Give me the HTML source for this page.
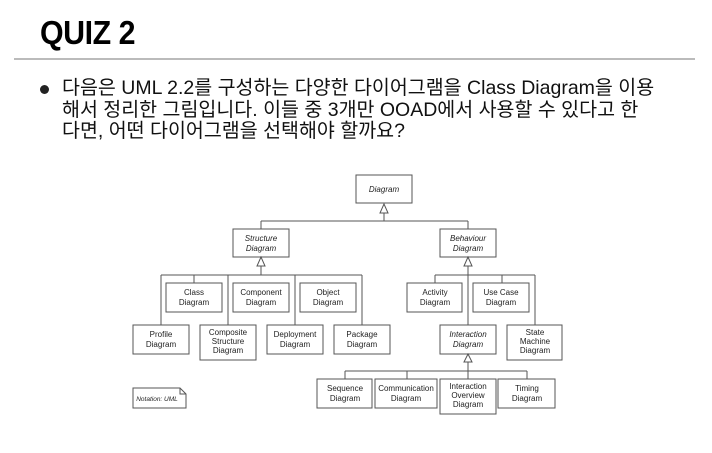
<!DOCTYPE html>
<html><head><meta charset="utf-8"><style>
body{margin:0;width:712px;height:453px;background:#fff;overflow:hidden;position:relative;font-family:"Liberation Sans","Noto Sans CJK KR",sans-serif}
.t{position:absolute;left:40px;top:14px;font-size:33px;font-weight:bold;letter-spacing:-0.5px;transform:scaleX(0.92);transform-origin:left}
.hr{position:absolute;left:14px;top:58px;width:681px;height:2px;background:#bbb}
.b{position:absolute;left:62px;top:78px;font-size:19.5px;line-height:21.5px;color:#111;width:660px;letter-spacing:0;white-space:nowrap}
.dot{position:absolute;left:40px;top:85px;width:9px;height:9px;border-radius:50%;background:#222}
</style></head><body>
<div class="t">QUIZ 2</div>
<div class="hr"></div>
<div class="dot"></div>
<div class="b">다음은 UML 2.2를 구성하는 다양한 다이어그램을 Class Diagram을 이용<br>해서 정리한 그림입니다. 이들 중 3개만 OOAD에서 사용할 수 있다고 한<br>다면, 어떤 다이어그램을 선택해야 할까요?</div>
<svg width="712" height="453" style="position:absolute;left:0;top:0" font-family="Liberation Sans, sans-serif" font-size="8" text-anchor="middle">
<g stroke="#555" fill="none" stroke-width="1">
<path d="M384 213V221M261 221H468M261 221V229M468 221V229"/>
<path d="M261 266V275M161 275H362M161 275V325M194 275V283M228 275V325M295 275V325M362 275V325"/>
<path d="M468 266V325M435 275H535M435 275V283M502 275V283M535 275V325"/>
<path d="M468 362V379M345 371H527M345 371V379M407 371V379M527 371V379"/>
<path d="M384 204L380 213H388Z M261 257L257 266H265Z M468 257L464 266H472Z M468 354L464 362H472Z" fill="#fff"/>
<rect x="356" y="175" width="56" height="28"/>
<rect x="233" y="229" width="56" height="28"/>
<rect x="440" y="229" width="56" height="28"/>
<rect x="166" y="283" width="56" height="29"/>
<rect x="233" y="283" width="56" height="29"/>
<rect x="300" y="283" width="56" height="29"/>
<rect x="407" y="283" width="55" height="29"/>
<rect x="473" y="283" width="56" height="29"/>
<rect x="133" y="325" width="56" height="29"/>
<rect x="200" y="325" width="56" height="35"/>
<rect x="267" y="325" width="56" height="29"/>
<rect x="334" y="325" width="56" height="29"/>
<rect x="440" y="325" width="56" height="29"/>
<rect x="507" y="325" width="55" height="35"/>
<rect x="317" y="379" width="55" height="29"/>
<rect x="375" y="379" width="62" height="29"/>
<rect x="440" y="379" width="56" height="35"/>
<rect x="498" y="379" width="57" height="29"/>
<path d="M133 388H180L186 394V408H133Z M180 388V394H186"/>
</g>
<g fill="#222">
<text x="384" y="192" font-style="italic">Diagram</text>
<text x="261" y="241" font-style="italic">Structure</text><text x="261" y="251" font-style="italic">Diagram</text>
<text x="468" y="241" font-style="italic">Behaviour</text><text x="468" y="251" font-style="italic">Diagram</text>
<text x="194" y="295">Class</text><text x="194" y="305">Diagram</text>
<text x="261" y="295">Component</text><text x="261" y="305">Diagram</text>
<text x="328" y="295">Object</text><text x="328" y="305">Diagram</text>
<text x="435" y="295">Activity</text><text x="435" y="305">Diagram</text>
<text x="501" y="295">Use Case</text><text x="501" y="305">Diagram</text>
<text x="161" y="337">Profile</text><text x="161" y="347">Diagram</text>
<text x="228" y="335">Composite</text><text x="228" y="344">Structure</text><text x="228" y="353">Diagram</text>
<text x="295" y="337">Deployment</text><text x="295" y="347">Diagram</text>
<text x="362" y="337">Package</text><text x="362" y="347">Diagram</text>
<text x="468" y="337" font-style="italic">Interaction</text><text x="468" y="347" font-style="italic">Diagram</text>
<text x="535" y="335">State</text><text x="535" y="344">Machine</text><text x="535" y="353">Diagram</text>
<text x="345" y="391">Sequence</text><text x="345" y="401">Diagram</text>
<text x="406" y="391">Communication</text><text x="406" y="401">Diagram</text>
<text x="468" y="389">Interaction</text><text x="468" y="398">Overview</text><text x="468" y="407">Diagram</text>
<text x="527" y="391">Timing</text><text x="527" y="401">Diagram</text>
<text x="157" y="401" font-size="6.5" font-style="italic">Notation: UML</text>
</g>
</svg>
</body></html>
